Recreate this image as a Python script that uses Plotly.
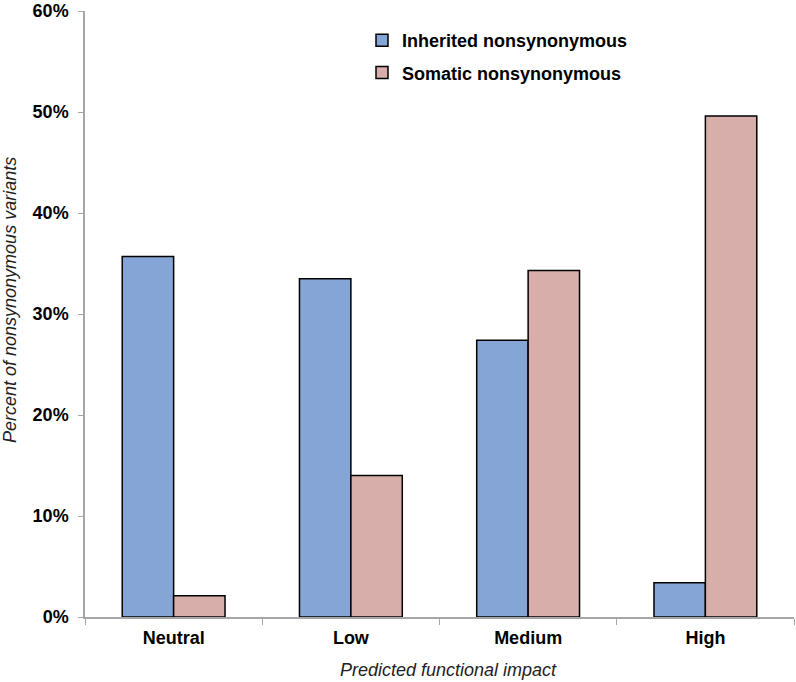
import plotly.graph_objects as go

categories = ["Neutral", "Low", "Medium", "High"]
inherited = [0.357, 0.335, 0.274, 0.034]
somatic = [0.021, 0.140, 0.343, 0.496]
series_names = ["Inherited nonsynonymous", "Somatic nonsynonymous"]
y_ticks = [0, 0.1, 0.2, 0.3, 0.4, 0.5, 0.6]

W, H = 796, 682
L, R, T, B = 85, 2, 11, 65
pw = W - L - R
ph = H - T - B

def px_x(x):
    return (x - L) / pw

def px_y(y):
    return (H - B - y) / ph

font = "Liberation Sans, Arial, sans-serif"
axis_col = "#A6A6A6"

fig = go.Figure()
fig.add_trace(go.Bar(
    x=categories, y=inherited, name=series_names[0], legendgroup="a",
    marker=dict(color="#85A5D6", line=dict(color="#000000", width=1.5)),
))
fig.add_trace(go.Bar(
    x=categories, y=somatic, name=series_names[1], legendgroup="b",
    marker=dict(color="#D8AEAA", line=dict(color="#000000", width=1.5)),
))

fig.update_layout(
    width=W, height=H,
    margin=dict(l=L, r=R, t=T, b=B),
    paper_bgcolor="white", plot_bgcolor="white",
    barmode="group", bargap=0.42, bargroupgap=0,
    font=dict(family=font, size=18, color="#000000"),
    showlegend=True,
    legend=dict(
        x=px_x(362), y=px_y(22), xanchor="left", yanchor="top",
        font=dict(family=font, size=18, color="#000000", weight="bold"),
        bgcolor="rgba(0,0,0,0)", tracegroupgap=6,
        itemclick=False,
    ),
    xaxis=dict(
        showline=True, linecolor=axis_col, linewidth=1.5,
        ticks="outside", tickson="boundaries", ticklen=6, tickcolor=axis_col,
        ticklabelstandoff=4,
        tickfont=dict(family=font, size=18, color="#000000", weight="bold"),
        showgrid=False, zeroline=False,
    ),
    yaxis=dict(
        range=[0, 0.6], tickvals=y_ticks, tickformat=".0%",
        showline=True, linecolor=axis_col, linewidth=1.5,
        ticks="outside", ticklen=5, tickcolor=axis_col,
        ticklabelstandoff=6,
        tickfont=dict(family=font, size=18, color="#000000", weight="bold"),
        showgrid=False, zeroline=False,
    ),
    annotations=[
        dict(text="Percent of nonsynonymous variants", textangle=-90,
             xref="paper", yref="paper", x=px_x(10), y=px_y(300),
             xanchor="center", yanchor="middle", showarrow=False,
             font=dict(family=font, size=18, color="#222222", style="italic")),
        dict(text="Predicted functional impact",
             xref="paper", yref="paper", x=px_x(448), y=px_y(670),
             xanchor="center", yanchor="middle", showarrow=False,
             font=dict(family=font, size=18, color="#222222", style="italic")),
    ],
)

fig.write_html(
    "out.html",
    config={"displayModeBar": False},
    post_script="document.body.style.margin='0';document.body.style.overflow='hidden';",
)
